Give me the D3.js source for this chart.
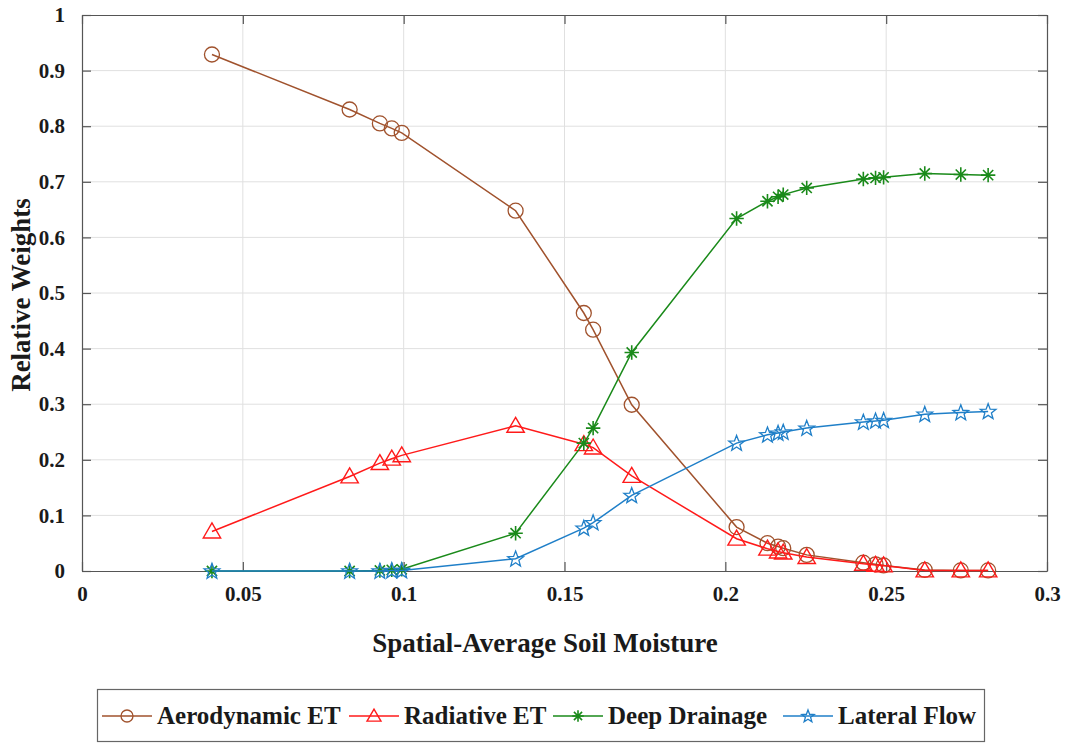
<!DOCTYPE html>
<html>
<head>
<meta charset="utf-8">
<script src="https://cdn.jsdelivr.net/npm/d3@7/dist/d3.min.js"></script>
<style>
  html, body { margin: 0; padding: 0; background: #fff; }
  svg { display: block; }
</style>
</head>
<body>
<svg id="chart" width="1071" height="744"></svg>
<script>
// Spatial-average soil moisture at each simulated state
const soilMoisture = [0.0404, 0.0832, 0.0926, 0.0963, 0.0994, 0.1348, 0.156, 0.1589, 0.1709, 0.2035,
                      0.2131, 0.2164, 0.218, 0.2253, 0.2429, 0.2467, 0.2492, 0.262, 0.2732, 0.2817];

// Relative weights of each water-loss pathway
const aerodynamicET = [0.929, 0.830, 0.805, 0.796, 0.788, 0.648, 0.464, 0.434, 0.299, 0.079,
                       0.050, 0.044, 0.041, 0.029, 0.015, 0.012, 0.010, 0.002, 0.001, 0.001];
const radiativeET   = [0.071, 0.170, 0.194, 0.202, 0.208, 0.261, 0.228, 0.222, 0.171, 0.058,
                       0.040, 0.035, 0.033, 0.025, 0.013, 0.011, 0.010, 0.001, 0.001, 0.001];
const deepDrainage  = [0.000, 0.000, 0.001, 0.002, 0.003, 0.068, 0.230, 0.257, 0.393, 0.634,
                       0.665, 0.673, 0.677, 0.689, 0.705, 0.707, 0.708, 0.715, 0.713, 0.712];
const lateralFlow   = [0.000, 0.000, 0.000, 0.001, 0.001, 0.022, 0.077, 0.087, 0.136, 0.230,
                       0.245, 0.248, 0.250, 0.257, 0.268, 0.270, 0.271, 0.282, 0.285, 0.287];

const seriesNames  = ["Aerodynamic ET", "Radiative ET", "Deep Drainage", "Lateral Flow"];
const seriesColors = ["#a0522d", "#ff1a1a", "#1a8a1a", "#1f7fc8"];
const seriesShapes = ["circle", "triangle", "asterisk", "star"];
const seriesValues = [aerodynamicET, radiativeET, deepDrainage, lateralFlow];

const xTicks = [0, 0.05, 0.1, 0.15, 0.2, 0.25, 0.3];
const yTicks = [0, 0.1, 0.2, 0.3, 0.4, 0.5, 0.6, 0.7, 0.8, 0.9, 1];
const xTitle = "Spatial-Average Soil Moisture";
const yTitle = "Relative Weights";

const FONT = '"Liberation Serif", Tinos, "Nimbus Roman", "Nimbus Roman No9 L", FreeSerif, "Noto Serif", "DejaVu Serif", "Times New Roman", Times, serif';
const INK = "#1a1a1a";

const svg = d3.select("#chart");
const plot = { left: 82, right: 1047, top: 15, bottom: 571 };

const x = d3.scaleLinear().domain([0, 0.3]).range([plot.left, plot.right]);
const y = d3.scaleLinear().domain([0, 1]).range([plot.bottom, plot.top]);

const styleText = (sel, size) => sel
  .style("font-family", FONT).style("font-weight", "bold")
  .style("font-size", size + "px").style("fill", INK);

// grid
const grid = svg.append("g");
grid.selectAll(".gx").data(xTicks.slice(1, -1)).join("line")
  .attr("x1", d => x(d)).attr("x2", d => x(d))
  .attr("y1", plot.top).attr("y2", plot.bottom)
  .attr("stroke", "#e0e0e0").attr("stroke-width", 1);
grid.selectAll(".gy").data(yTicks.slice(1, -1)).join("line")
  .attr("x1", plot.left).attr("x2", plot.right)
  .attr("y1", d => y(d)).attr("y2", d => y(d))
  .attr("stroke", "#e0e0e0").attr("stroke-width", 1);

// axes (inward ticks, box on)
const tickFmt = d => String(+d.toFixed(2));
const axisStyle = g => {
  g.select(".domain").attr("stroke", "#555").attr("stroke-width", 1.2);
  g.selectAll(".tick line").attr("stroke", "#555").attr("stroke-width", 1.2);
  styleText(g.selectAll(".tick text"), 21);
};

svg.append("g").attr("transform", `translate(0,${plot.bottom})`)
  .call(d3.axisBottom(x).tickValues(xTicks).tickFormat(tickFmt).tickSizeInner(-9).tickSizeOuter(0).tickPadding(15))
  .call(axisStyle);
svg.append("g").attr("transform", `translate(0,${plot.top})`)
  .call(d3.axisTop(x).tickValues(xTicks).tickFormat("").tickSizeInner(-9).tickSizeOuter(0))
  .call(axisStyle);
svg.append("g").attr("transform", `translate(${plot.left},0)`)
  .call(d3.axisLeft(y).tickValues(yTicks).tickFormat(tickFmt).tickSizeInner(-9).tickSizeOuter(0).tickPadding(17))
  .call(axisStyle);
svg.append("g").attr("transform", `translate(${plot.right},0)`)
  .call(d3.axisRight(y).tickValues(yTicks).tickFormat("").tickSizeInner(-9).tickSizeOuter(0))
  .call(axisStyle);

// titles
styleText(svg.append("text").attr("x", 545).attr("y", 652).attr("text-anchor", "middle"), 27).text(xTitle);
styleText(svg.append("text").attr("transform", "translate(30,295) rotate(-90)").attr("text-anchor", "middle"), 27).text(yTitle);

// marker drawing
function drawMarker(g, shape, color, size) {
  const s = size;
  if (shape === "circle") {
    g.append("circle").attr("r", s * 0.5).attr("fill", "none").attr("stroke", color).attr("stroke-width", 1.3);
  } else if (shape === "triangle") {
    const h = s * 0.95;
    g.append("path")
      .attr("d", `M0,${-h * 0.6}L${s * 0.58},${h * 0.45}L${-s * 0.58},${h * 0.45}Z`)
      .attr("fill", "none").attr("stroke", color).attr("stroke-width", 1.4);
  } else if (shape === "asterisk") {
    const r = s * 0.48;
    let d = "";
    for (let i = 0; i < 4; i++) {
      const a = i * Math.PI / 4;
      d += `M${r * Math.cos(a)},${r * Math.sin(a)}L${-r * Math.cos(a)},${-r * Math.sin(a)}`;
    }
    g.append("path").attr("d", d).attr("stroke", color).attr("stroke-width", 1.6).attr("fill", "none");
  } else if (shape === "star") {
    const pts = [];
    for (let i = 0; i < 10; i++) {
      const a = -Math.PI / 2 + i * Math.PI / 5;
      const r = i % 2 === 0 ? s * 0.55 : s * 0.23;
      pts.push([r * Math.cos(a), r * Math.sin(a) + 0.5]);
    }
    g.append("path").attr("d", "M" + pts.map(p => p.join(",")).join("L") + "Z")
      .attr("fill", "none").attr("stroke", color).attr("stroke-width", 1.3);
  }
}

// series
const line = d3.line().x(d => x(d[0])).y(d => y(d[1]));
seriesValues.forEach((vals, i) => {
  const pts = soilMoisture.map((sm, j) => [sm, vals[j]]);
  const g = svg.append("g");
  g.append("path").datum(pts).attr("d", line)
    .attr("fill", "none").attr("stroke", seriesColors[i]).attr("stroke-width", 1.5);
  pts.forEach(p => {
    const m = g.append("g").attr("transform", `translate(${x(p[0])},${y(p[1])})`);
    drawMarker(m, seriesShapes[i], seriesColors[i], 15);
  });
});

// legend
const legend = svg.append("g");
legend.append("rect").attr("x", 97.5).attr("y", 689.5).attr("width", 887).attr("height", 52)
  .attr("fill", "#fff").attr("stroke", "#666").attr("stroke-width", 1.2);
const legendX = [102, 349, 553, 783];
seriesNames.forEach((name, i) => {
  const g = legend.append("g").attr("transform", `translate(${legendX[i]},716)`);
  g.append("line").attr("x1", 0).attr("x2", 50).attr("stroke", seriesColors[i]).attr("stroke-width", 1.5);
  const m = g.append("g").attr("transform", "translate(25,0)");
  drawMarker(m, seriesShapes[i], seriesColors[i], 12);
  styleText(g.append("text").attr("x", 55).attr("y", 8), 25).text(name);
});
</script>
</body>
</html>
